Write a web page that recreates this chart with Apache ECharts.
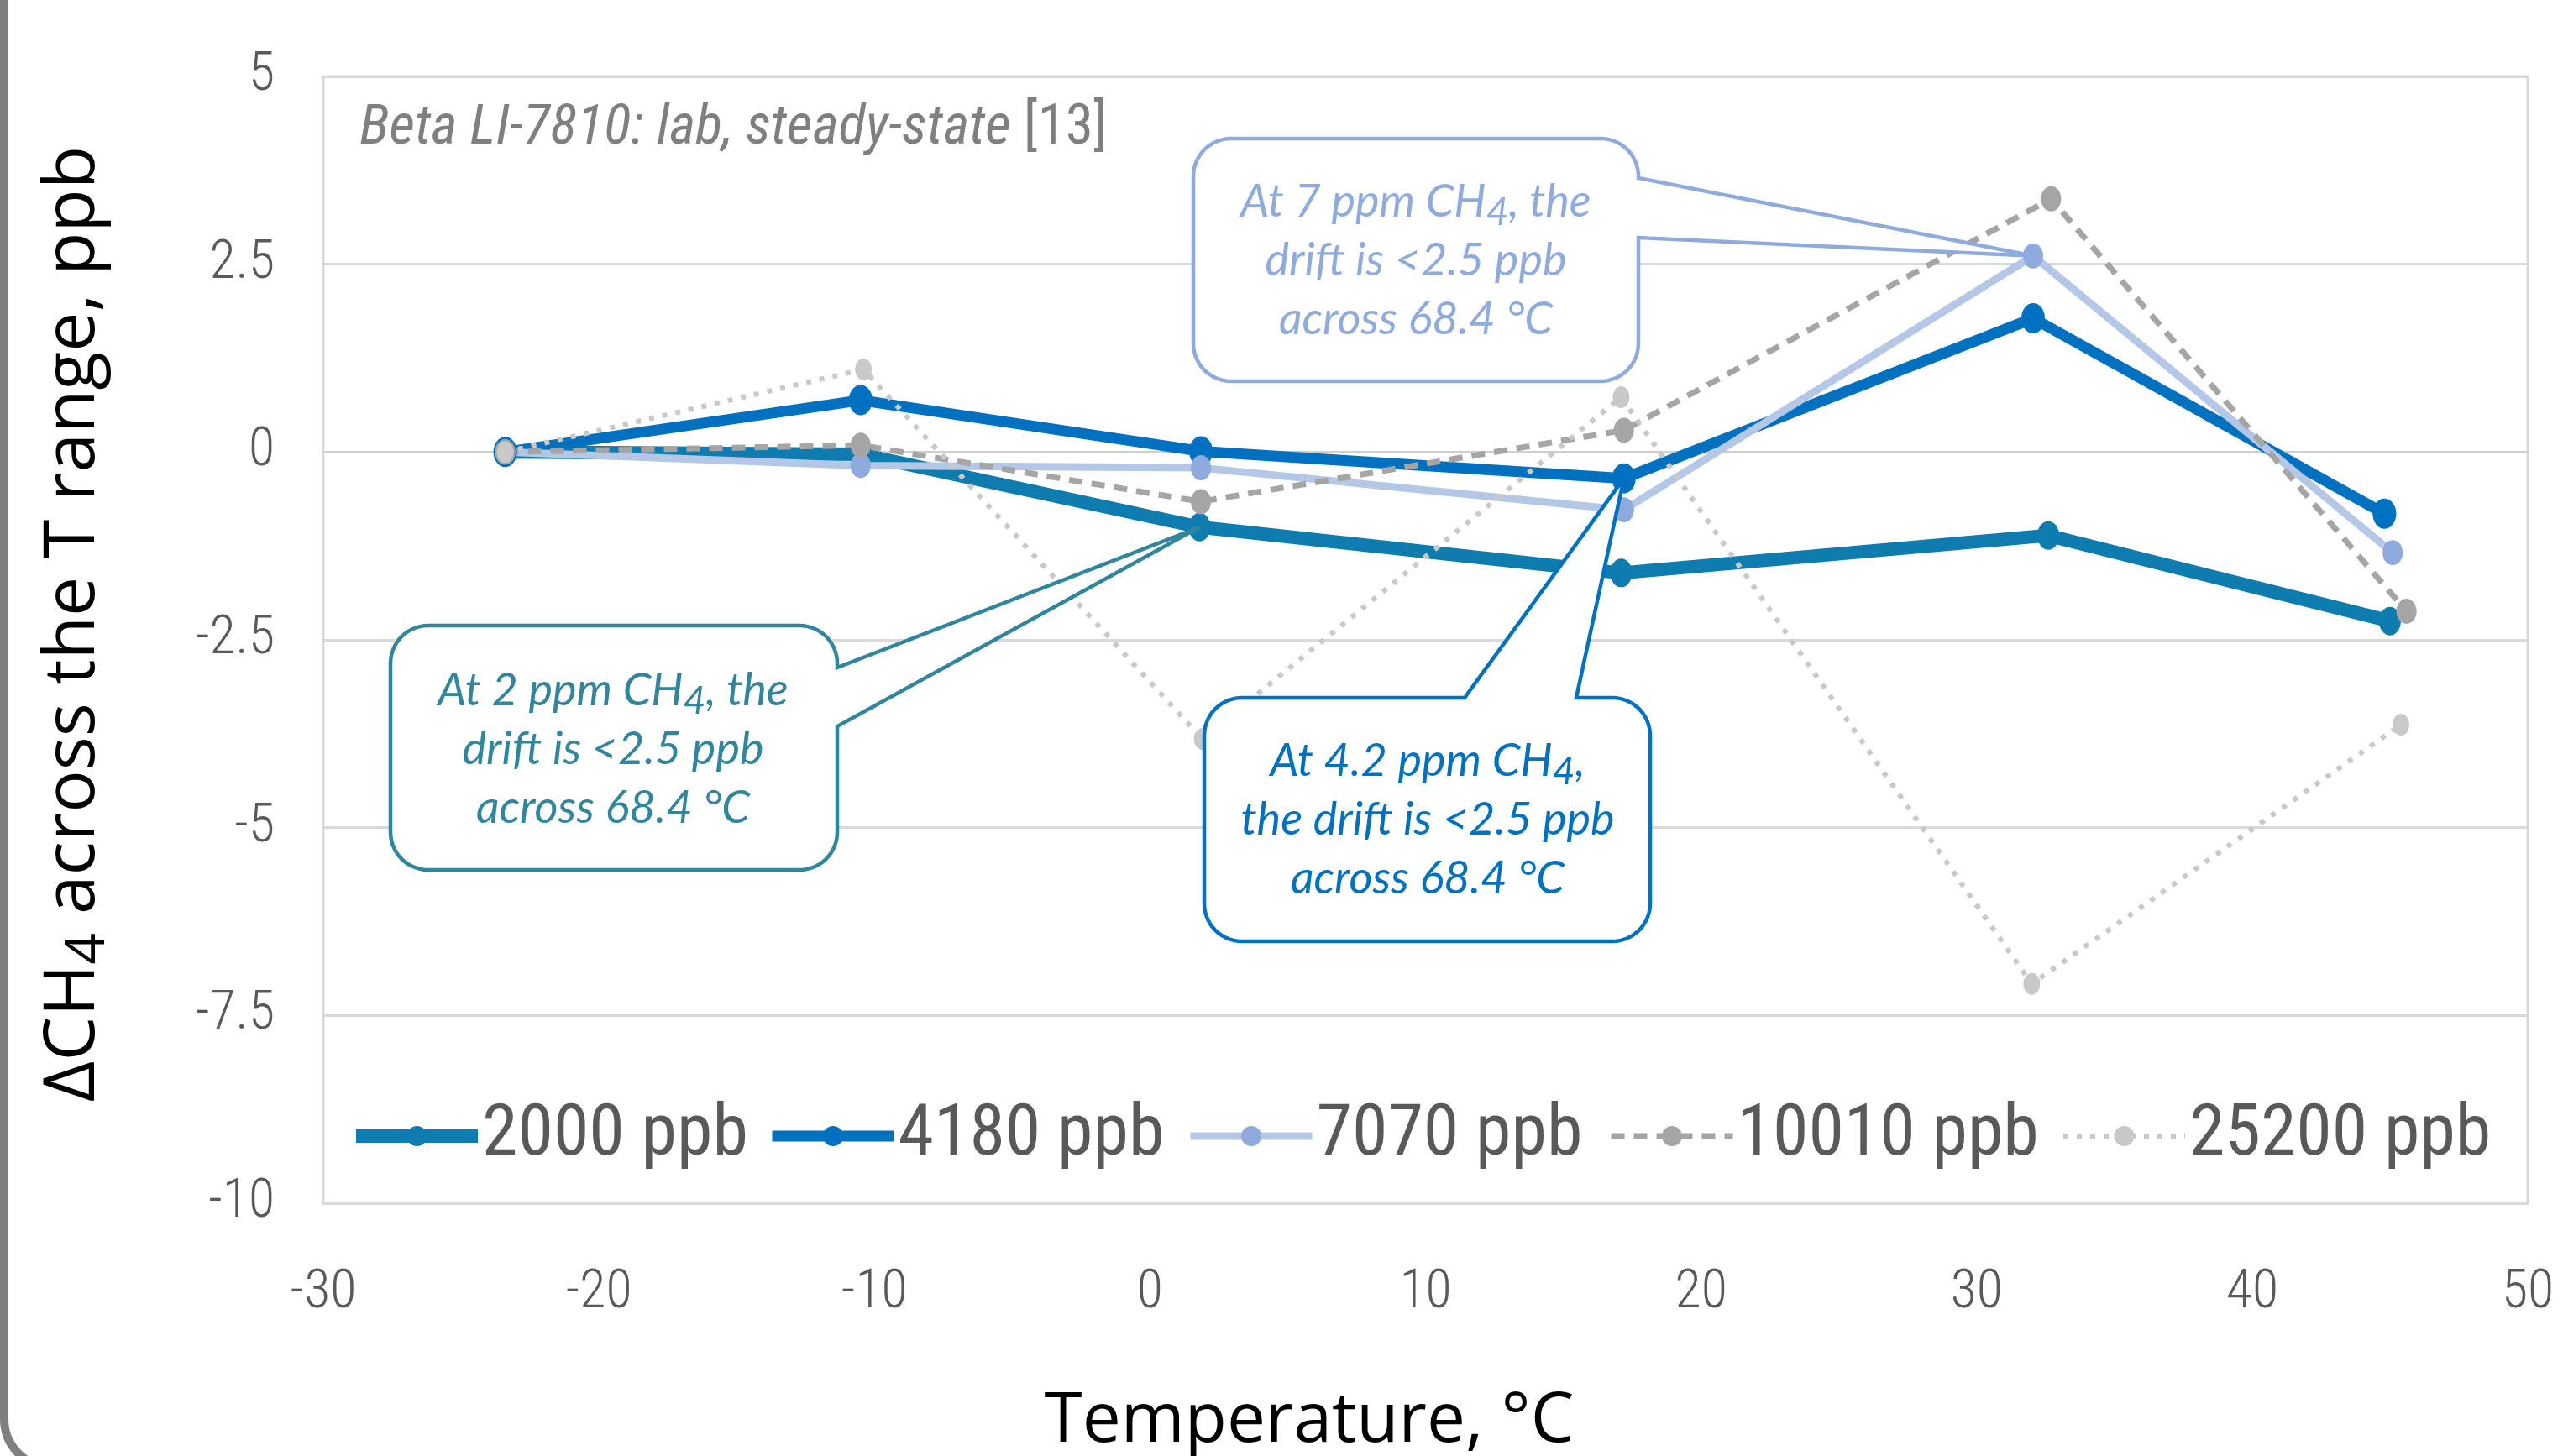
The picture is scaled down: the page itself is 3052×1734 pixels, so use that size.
<!DOCTYPE html>
<html><head><meta charset="utf-8">
<script src="https://cdn.jsdelivr.net/npm/echarts@6/dist/echarts.min.js"></script>
<style>html,body{margin:0;padding:0;background:#fff}#c{width:3052px;height:1734px}</style>
</head><body><div id="c"></div>
<script>
// ---------------- data ----------------
const seriesNames = ['2000 ppb', '4180 ppb', '7070 ppb', '10010 ppb', '25200 ppb'];
const temp2000  = [-23.4, -10.5, 1.8, 17.1, 32.6, 45.0];
const val2000   = [0, -0.03, -1.00, -1.61, -1.11, -2.25];
const temp4180  = [-23.4, -10.5, 1.85, 17.2, 32.05, 44.8];
const val4180   = [0, 0.69, 0.01, -0.35, 1.78, -0.82];
const temp7070  = [-23.4, -10.5, 1.85, 17.2, 32.05, 45.1];
const val7070   = [0, -0.18, -0.21, -0.77, 2.61, -1.34];
const temp10010 = [-23.4, -10.5, 1.85, 17.2, 32.7, 45.6];
const val10010  = [0, 0.09, -0.66, 0.29, 3.37, -2.12];
const temp25200 = [-23.4, -10.4, 1.9, 17.1, 32.0, 45.4];
const val25200  = [0, 1.10, -3.82, 0.73, -7.08, -3.63];
const xTicks = [-30, -20, -10, 0, 10, 20, 30, 40, 50];
const yTicks = [-10, -7.5, -5, -2.5, 0, 2.5, 5];

const temps = [temp2000, temp4180, temp7070, temp10010, temp25200];
const vals  = [val2000, val4180, val7070, val10010, val25200];

// ---------------- styles ----------------
const NARROW = "'Roboto Condensed',Carlito,sans-serif";
const CALL = "Lato,'Open Sans',sans-serif";
const SANS = "'Open Sans','Noto Sans',sans-serif";
const styles = [
  {line:'#0F7CB0', mark:'#0F7CB0', width:16, type:'solid', size:[26,34]},
  {line:'#0070C0', mark:'#0070C0', width:13, type:'solid', size:[28,36]},
  {line:'#B4C7E7', mark:'#8FAADC', width:9,  type:'solid', size:[24,30]},
  {line:'#A5A5A5', mark:'#A5A5A5', width:7,  type:[16,11], size:[24,30]},
  {line:'#C9C9C9', mark:'#C9C9C9', width:6,  type:[6,10],  size:[20,26]}
];
const legendLeft = [416, 913, 1413, 1915, 2454];

const chart = echarts.init(document.getElementById('c'));

const series = seriesNames.map((n, i) => ({
  name: n, type: 'line',
  data: temps[i].map((t, k) => [t, vals[i][k]]),
  symbol: 'circle', symbolSize: styles[i].size,
  lineStyle: {color: styles[i].line, width: styles[i].width, type: styles[i].type},
  itemStyle: {color: styles[i].mark},
  emphasis: {disabled: true},
  animation: false
}));

const legends = seriesNames.map((n, i) => ({
  data: [n], left: legendLeft[i], top: 1310, padding: 0,
  itemWidth: 145, itemHeight: 30, itemGap: 0, selectedMode: false,
  textStyle: {fontFamily: NARROW, fontSize: 86, color: '#595959'},
  lineStyle: {width: styles[i].width}
}));

chart.setOption({
  animation: false,
  backgroundColor: '#ffffff',
  grid: {left: 385, right: 42, top: 91, bottom: 301, show: true, borderColor: '#D9D9D9', borderWidth: 3},
  xAxis: {
    type: 'value', min: xTicks[0], max: xTicks[xTicks.length - 1], interval: 10,
    axisLine: {show: true, lineStyle: {color: '#CFCFCF', width: 3}},
    axisTick: {show: false}, splitLine: {show: false},
    axisLabel: {fontFamily: NARROW, fontWeight: 300, fontSize: 64, color: '#595959', margin: 76}
  },
  yAxis: {
    type: 'value', min: yTicks[0], max: yTicks[yTicks.length - 1], interval: 2.5,
    axisLine: {show: false}, axisTick: {show: false},
    splitLine: {lineStyle: {color: '#D9D9D9', width: 3}},
    axisLabel: {fontFamily: NARROW, fontWeight: 300, fontSize: 64, color: '#595959', margin: 58}
  },
  legend: legends,
  series: series,
  graphic: [
    {type: 'rect', id: 'frame', z: 1, silent: true,
     shape: {x: 5, y: -100, width: 3200, height: 1848, r: 58},
     style: {fill: 'none', stroke: '#7F7F7F', lineWidth: 10}},
    {type: 'text', id: 'betaTitle', x: 428, y: 154, z: 50, silent: true,
     style: {text: '{i|Beta LI-7810: lab, steady-state }{n|[13]}', align: 'left', verticalAlign: 'middle',
       rich: {i: {fontFamily: NARROW, fontStyle: 'italic', fontSize: 67, fill: '#7F7F7F'},
              n: {fontFamily: NARROW, fontSize: 67, fill: '#7F7F7F'}}}},
    {type: 'text', id: 'xTitle', x: 1559, y: 1694, z: 50, silent: true,
     style: {text: 'Temperature, °C', font: '82px ' + SANS, fill: '#000', align: 'center', verticalAlign: 'middle'}},
    {type: 'text', id: 'yTitle', x: 88, y: 743, z: 50, rotation: Math.PI / 2, silent: true,
     style: {text: '{a|ΔCH}{s|4}{a| across the T range, ppb}', align: 'center', verticalAlign: 'middle',
       rich: {a: {fontFamily: SANS, fontSize: 84, fill: '#000', lineHeight: 100, verticalAlign: 'middle'},
              s: {fontFamily: SANS, fontSize: 66, fill: '#000', lineHeight: 40, verticalAlign: 'bottom'}}}}
  ]
});

// ---------------- callouts (speech bubbles pointing at data points) ----------------
function arc(cx, cy, r, a0, a1) {
  const pts = [];
  const n = 14;
  for (let j = 0; j <= n; j++) {
    const a = (a0 + (a1 - a0) * j / n) * Math.PI / 180;
    pts.push([cx + r * Math.cos(a), cy + r * Math.sin(a)]);
  }
  return pts;
}
function calloutPoints(b, side, a1, a2, tip) {
  const {x0, y0, x1, y1, r} = b;
  let p = [[x0 + r, y0]];
  if (side === 'top') p.push([a1, y0], tip, [a2, y0]);
  p = p.concat(arc(x1 - r, y0 + r, r, -90, 0));
  if (side === 'right') p.push([x1, a1], tip, [x1, a2]);
  p = p.concat(arc(x1 - r, y1 - r, r, 0, 90));
  p = p.concat(arc(x0 + r, y1 - r, r, 90, 180));
  p = p.concat(arc(x0 + r, y0 + r, r, 180, 270));
  return p;
}

const callouts = [
  {id: 'c7070', box: {x0: 1421, y0: 165, x1: 1951, y1: 454, r: 45}, side: 'right', a1: 212, a2: 283,
   s: 2, k: 4, color: '#8FAADC', tx: 1686, ty: 311,
   text: '{t|At 7 ppm CH}{s|4}{t|, the}\n{t|drift is <2.5 ppb}\n{t|across 68.4 °C}'},
  {id: 'c2000', box: {x0: 465, y0: 745, x1: 997, y1: 1036, r: 45}, side: 'right', a1: 795, a2: 865,
   s: 0, k: 2, color: '#31859C', tx: 730, ty: 893,
   text: '{t|At 2 ppm CH}{s|4}{t|, the}\n{t|drift is <2.5 ppb}\n{t|across 68.4 °C}'},
  {id: 'c4180', box: {x0: 1434, y0: 831, x1: 1965, y1: 1121, r: 45}, side: 'top', a1: 1744, a2: 1877,
   s: 1, k: 3, color: '#0070C0', tx: 1700, ty: 977,
   text: '{t|At 4.2 ppm CH}{s|4}{t|,}\n{t|the drift is <2.5 ppb}\n{t|across 68.4 °C}'}
];

const extra = [];
callouts.forEach(c => {
  const tip = chart.convertToPixel({gridIndex: 0}, [temps[c.s][c.k], vals[c.s][c.k]]);
  extra.push({type: 'polygon', id: c.id + 'box', z: 100, silent: true,
    shape: {points: calloutPoints(c.box, c.side, c.a1, c.a2, tip)},
    style: {fill: '#ffffff', stroke: c.color, lineWidth: 4.5, lineJoin: 'miter', miterLimit: 4}});
  extra.push({type: 'text', id: c.id + 'txt', z: 101, x: c.tx, y: c.ty, silent: true,
    style: {text: c.text, align: 'center', verticalAlign: 'middle',
      rich: {t: {fontFamily: CALL, fontStyle: 'italic', fontSize: 54, fill: c.color, lineHeight: 70, verticalAlign: 'middle'},
             s: {fontFamily: CALL, fontStyle: 'italic', fontSize: 46, fill: c.color, lineHeight: 46, verticalAlign: 'bottom'}}}});
});
chart.setOption({graphic: extra});
</script>
</body></html>
